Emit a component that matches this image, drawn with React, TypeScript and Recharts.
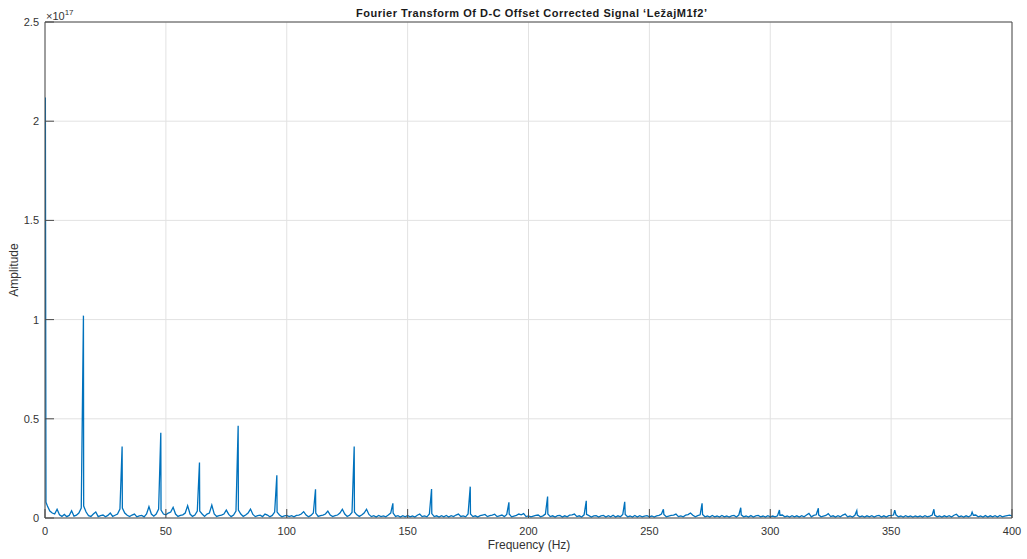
import { LineChart, Line, XAxis, YAxis, CartesianGrid } from "recharts";

// amplitude values are in units of 1e17
const xTicks = [0, 50, 100, 150, 200, 250, 300, 350, 400];
const yTicks = [0, 0.5, 1, 1.5, 2, 2.5];

// main spectral lines (Hz, amplitude)
const peakHz = [
  0.15, 0.4, 15.9, 31.9, 47.9, 63.9, 79.9, 95.9, 111.9, 127.9, 143.9, 159.9,
  175.9, 191.9, 207.9, 223.9, 239.8, 255.8, 271.8, 287.8, 303.8, 319.9, 335.8,
  351.5, 367.7, 383.5,
];
const peakAmp = [
  2.12, 0.08, 1.02, 0.36, 0.43, 0.28, 0.465, 0.215, 0.145, 0.36, 0.074, 0.146,
  0.158, 0.079, 0.108, 0.087, 0.082, 0.044, 0.074, 0.052, 0.04, 0.049, 0.037,
  0.04, 0.044, 0.03,
];

// noise floor, one value per Hz starting at 1 Hz, in units of 1e15
const noiseStartHz = 1;
const noiseAmp = [
  6, 3.5, 2.5, 2, 4.4, 1.6, 0.8, 1.8, 0.7,
  1.3, 3.7, 0.9, 1.4, 2.5, 5, 6, 3, 1.2, 0.8,
  2, 3, 0.7, 1.2, 1.5, 0.6, 1.3, 2.5, 0.8, 1.4,
  2, 4.5, 5, 2.5, 1.4, 0.7, 1.5, 2, 0.6, 1.1,
  1.3, 0.6, 2, 5.7, 2, 0.9, 2, 4.5, 4, 2,
  1.6, 2.5, 3, 5.4, 2, 0.8, 1.3, 1.6, 2.5, 6.2,
  2, 0.8, 1.5, 3.5, 3.5, 2, 0.8, 2, 2.5, 6.5,
  2, 0.8, 1.2, 1.5, 2, 4, 1.8, 0.7, 1.5, 3.5,
  4, 2, 0.8, 1.5, 2.5, 4.5, 1.8, 0.7, 1.2, 1.4,
  0.7, 2, 1.5, 0.6, 1.3, 3, 3, 1.5, 0.6, 1.1,
  1.3, 0.7, 1.2, 0.6, 1.3, 1.5, 2, 3.2, 1.5, 0.6,
  1.3, 2.5, 2.5, 0.8, 1.2, 1.5, 2, 3.5, 1.5, 0.7,
  1.2, 1.5, 2.5, 4.4, 2, 0.8, 1.4, 2.8, 3, 1.6,
  0.8, 1.5, 2.5, 4.4, 1.8, 0.7, 1.2, 0.5, 1.3, 0.7,
  1.1, 0.6, 1.5, 2.5, 2.5, 0.8, 1.2, 0.5, 1.2, 0.6,
  1.3, 0.6, 1, 0.5, 1.4, 2, 0.7, 1.1, 0.6, 2,
  2.2, 0.7, 1.1, 0.5, 1.2, 0.6, 1.3, 0.5, 1.2, 0.7,
  1.5, 2, 0.8, 1.1, 0.6, 2, 2, 0.7, 1.1, 0.5,
  1.2, 1.5, 1.8, 0.7, 1.2, 1.5, 1.9, 0.7, 1.1, 1.5,
  0.7, 1.8, 2, 0.6, 1, 1.3, 2, 1.6, 2.2, 0.7,
  1.1, 0.6, 1, 1.3, 1.5, 0.6, 1.1, 2, 2, 0.7,
  1.1, 0.5, 1.2, 1.3, 0.5, 1.1, 0.6, 1.4, 1.6, 2,
  0.7, 1.1, 0.5, 1.6, 1.8, 1.2, 0.5, 1.1, 1.2, 0.5,
  1.1, 1.3, 0.5, 1.2, 0.6, 1.4, 0.5, 1.1, 0.6, 1.8,
  1.8, 0.6, 1, 0.5, 1.3, 0.5, 1.2, 0.6, 1, 1.2,
  0.6, 1, 0.5, 1.1, 1.3, 2, 1.8, 0.6, 1, 1.3,
  1.5, 2, 0.7, 1.1, 0.6, 1.4, 1.7, 2.5, 1.4, 0.6,
  1.2, 1.6, 1.8, 0.6, 1, 0.5, 1.3, 0.6, 1, 0.5,
  1.3, 0.6, 1, 0.5, 1.1, 1.3, 0.5, 1.5, 1.6, 0.6,
  1, 0.5, 1.2, 0.5, 1.1, 1.3, 0.6, 1, 0.5, 1.2,
  0.6, 1, 0.6, 1.1, 1.4, 1.5, 0.6, 1, 0.5, 1.2,
  0.6, 1.1, 0.5, 1.2, 0.6, 1.5, 2.3, 0.6, 1.3, 1.6,
  1.6, 0.6, 1, 1.3, 2.2, 0.7, 1.1, 0.5, 1.2, 0.6,
  1.5, 2, 0.6, 1, 0.5, 1.4, 1.5, 0.6, 1, 0.5,
  1.1, 0.6, 1.2, 0.5, 1.1, 1.3, 0.5, 1.1, 0.5, 1.2,
  1.3, 1.5, 1.6, 0.6, 1, 0.5, 1.2, 0.6, 1, 0.5,
  1, 0.6, 1, 0.5, 1.2, 0.6, 1, 1.5, 1.5, 0.6,
  1, 0.5, 1.1, 0.6, 1.2, 0.5, 1.4, 1.9, 0.6, 1,
  0.5, 1.1, 0.6, 1.2, 1.4, 1.5, 0.6, 1, 0.5, 1.2,
  0.5, 1.1, 0.6, 1.2, 0.5, 1.3, 0.6, 1, 1.2, 1.4,
  1.1, 1.2,
];

const data = [
  ...noiseAmp.map((v, i) => ({ hz: noiseStartHz + i, amp: v / 100 })),
  ...peakHz.map((hz, i) => ({ hz, amp: peakAmp[i] })),
].sort((a, b) => a.hz - b.hz);

const FONT = "'Liberation Sans', Arial, Helvetica, sans-serif";
const AXIS = "#4a4a4a";
const tickStyle = { fontSize: 11, fill: "#333", fontFamily: FONT };

export default function App() {
  return (
    <div
      style={{
        position: "absolute",
        left: 0,
        top: 0,
        width: 1027,
        height: 559,
        background: "#fff",
      }}
    >
      <LineChart
        width={1027}
        height={559}
        data={data}
        margin={{ top: 2, right: 5, bottom: 11, left: 0 }}
      >
        <CartesianGrid stroke="#e2e2e2" />
        <XAxis
          dataKey="hz"
          type="number"
          domain={[0, 400]}
          ticks={xTicks}
          allowDataOverflow
          height={30}
          tickSize={-9}
          tickMargin={18}
          tick={tickStyle}
          stroke={AXIS}
        />
        <XAxis
          xAxisId="top"
          orientation="top"
          dataKey="hz"
          type="number"
          domain={[0, 400]}
          ticks={xTicks}
          height={20}
          tickSize={-9}
          tick={false}
          stroke={AXIS}
        />
        <YAxis
          type="number"
          domain={[0, 2.5]}
          ticks={yTicks}
          allowDataOverflow
          width={45}
          tickSize={-9}
          tickMargin={15}
          tick={tickStyle}
          stroke={AXIS}
        />
        <YAxis
          yAxisId="right"
          orientation="right"
          type="number"
          domain={[0, 2.5]}
          ticks={yTicks}
          width={10}
          tickSize={-9}
          tick={false}
          stroke={AXIS}
        />
        <Line
          dataKey="amp"
          stroke="#0072BD"
          strokeWidth={1.3}
          dot={false}
          activeDot={false}
          isAnimationActive={false}
        />
      </LineChart>
      <svg
        width={1027}
        height={559}
        style={{ position: "absolute", left: 0, top: 0, pointerEvents: "none" }}
        fontFamily={FONT}
      >
        <text
          x={356}
          y={17}
          fontSize={11}
          fontWeight="bold"
          fill="#1a1a1a"
          textLength={351}
          lengthAdjust="spacing"
        >
          Fourier Transform Of D-C Offset Corrected Signal ‘LežajM1f2’
        </text>
        <text x={529} y={549} textAnchor="middle" fontSize={12} fill="#333">
          Frequency (Hz)
        </text>
        <text
          x={18}
          y={270}
          textAnchor="middle"
          fontSize={12}
          fill="#333"
          transform="rotate(-90 18 270)"
        >
          Amplitude
        </text>
        <text x={46} y={20} fontSize={11} fill="#333">
          ×10
          <tspan dy={-5} fontSize={8}>
            17
          </tspan>
        </text>
      </svg>
    </div>
  );
}
